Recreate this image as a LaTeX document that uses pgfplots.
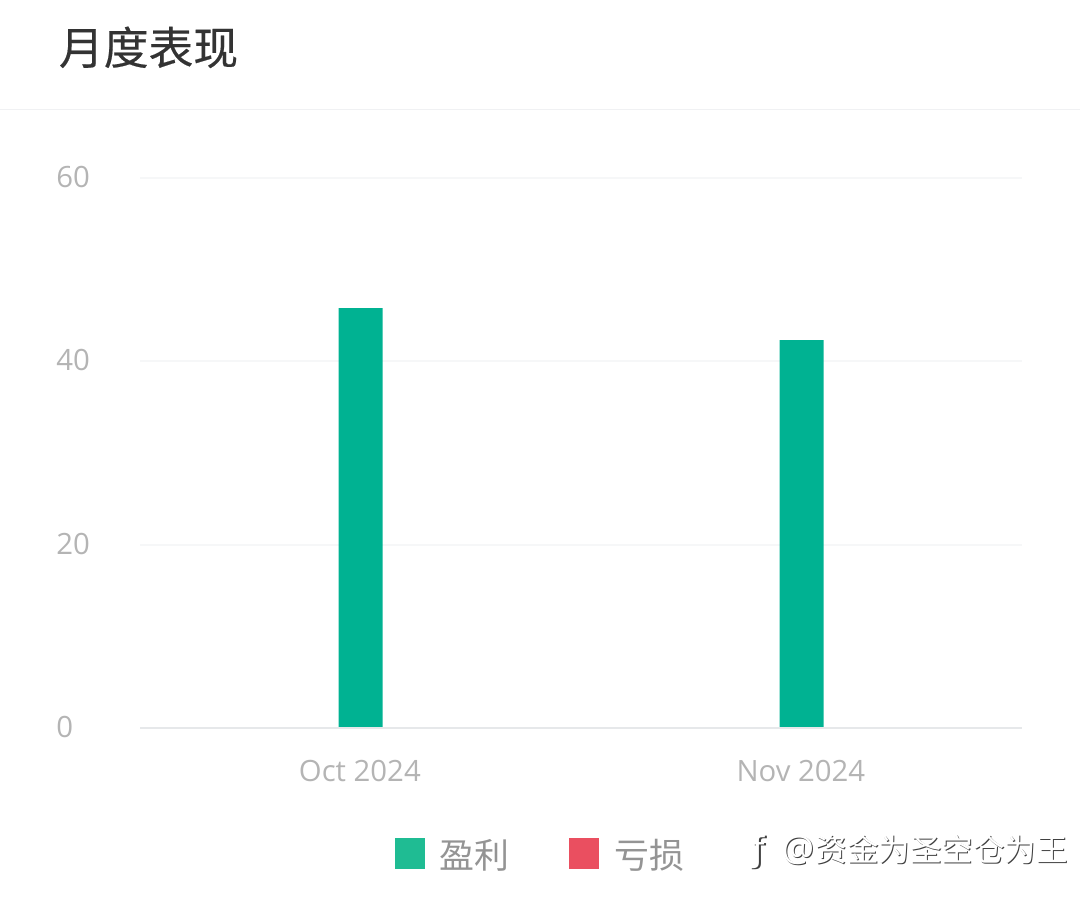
\documentclass[border=0pt]{standalone}
\usepackage{pgfplots}
\pgfplotsset{compat=1.18}
\usepackage{fontspec}
\setmainfont{Open Sans}
\newfontfamily\cjk{Noto Sans CJK SC}
\newfontfamily\cjkbold[FakeBold=0.35]{Noto Sans CJK SC}
\newfontfamily\djv{DejaVu Sans}
\definecolor{bargreen}{HTML}{00B292}
\definecolor{leggreen}{HTML}{1FBC93}
\definecolor{legred}{HTML}{EA4F60}
\definecolor{ticktxt}{HTML}{B4B4B4}
\definecolor{gridc}{HTML}{F6F7F8}
\definecolor{basec}{HTML}{E6E8EA}
\newcommand{\wm}{{\djv\fontsize{26}{26}\selectfont ƒ}\hspace{12.5pt}{\fontsize{27}{26}\selectfont @}\hspace{1.2pt}{\cjk\fontsize{23.6}{26}\selectfont 资金为圣空仓为王}}
\begin{document}
\begin{tikzpicture}[x=1pt,y=1pt]
\path[use as bounding box] (0,0) rectangle (810,679.5);
\begin{axis}[
  at={(105pt,133.5pt)},anchor=south west,
  width=661.5pt,height=412.5pt,scale only axis,
  xmin=-0.5,xmax=1.5,ymin=0,ymax=60,
  axis x line*=bottom,axis y line*=left,
  axis line style={draw=none},
  xtick={0,1},xticklabels={Oct 2024,Nov 2024},
  ytick={0,20,40,60},
  major tick length=0pt,
  ymajorgrids,
  grid style={gridc,line width=1.5pt},
  tick label style={text=ticktxt,font=\fontsize{22}{24}\selectfont},
  /pgf/number format/assume math mode=true,
  xticklabel style={yshift=-21pt,xshift=-0.5pt},
  yticklabel style={anchor=west,xshift=-66.2pt,yshift=0.7pt},
  clip=false,
]
\addplot[ybar,bar width=33pt,fill=bargreen,draw=none] coordinates {(0,45.8)(1,42.3)};
\draw[basec,line width=2pt] (axis cs:-0.5,0)--(axis cs:1.5,0);
\end{axis}
\draw[basec!60,line width=1pt] (0,597.5)--(810,597.5);
\node[anchor=west,text=black!80,inner sep=0pt] at (44,644) {\cjkbold\fontsize{33.6}{36}\selectfont 月度表现};
\fill[leggreen] (296,28) rectangle (319,51);
\node[anchor=west,text=black!42,inner sep=0pt] at (329.5,38) {\cjk\fontsize{26.2}{28}\selectfont 盈利};
\fill[legred] (426.5,28) rectangle (449.5,51);
\node[anchor=west,text=black!42,inner sep=0pt] at (460.5,38) {\cjk\fontsize{26.2}{28}\selectfont 亏损};
\node[anchor=west,text=black!75,inner sep=0pt] at (565.3,39.7) {\wm};
\node[anchor=west,text=white,inner sep=0pt] at (564.5,40.5) {\wm};
\end{tikzpicture}
\end{document}
